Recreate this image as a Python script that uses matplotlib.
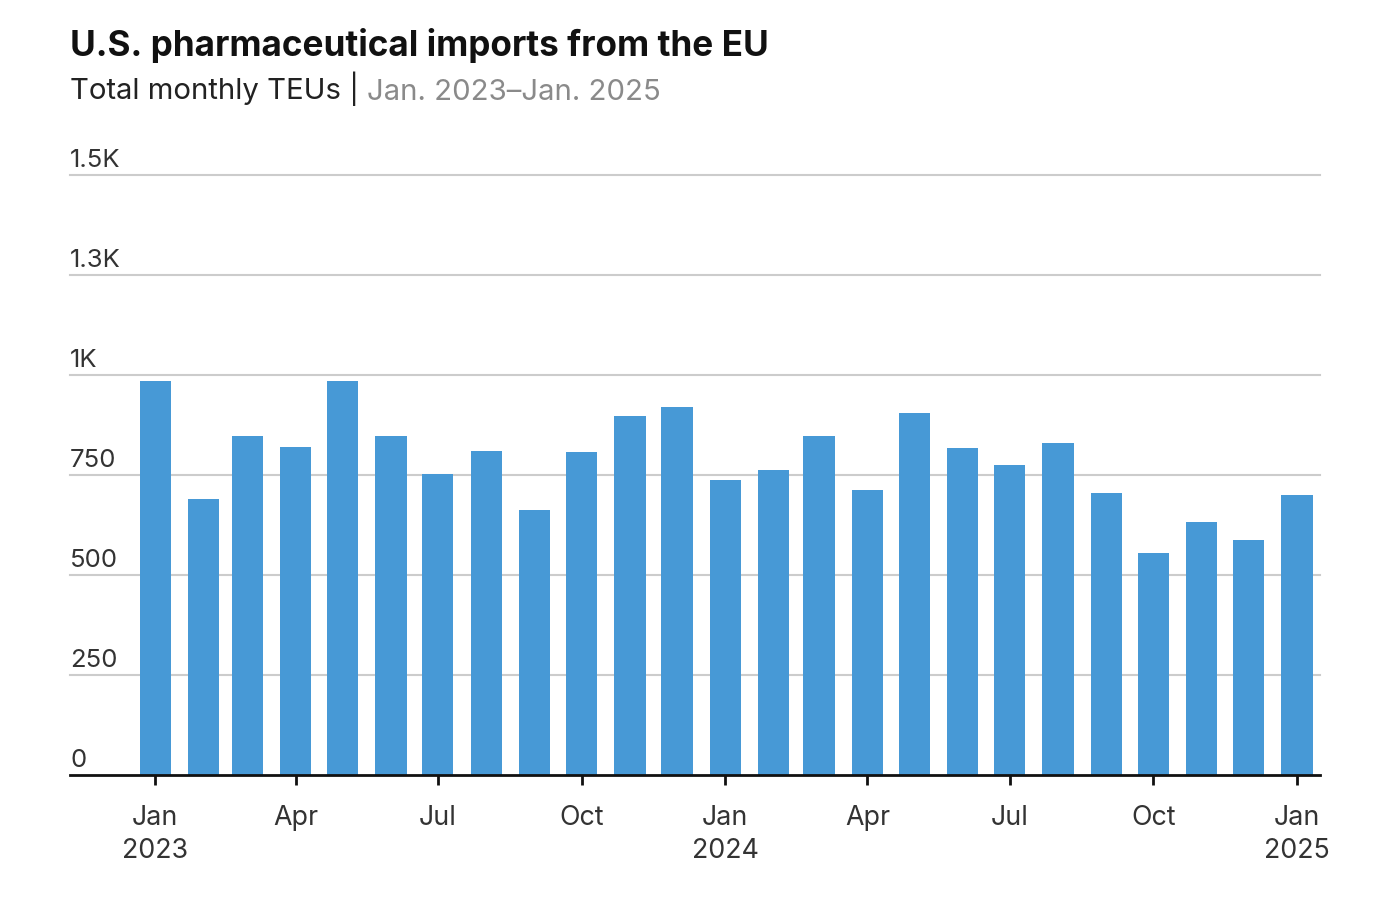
import matplotlib
matplotlib.use("Agg")
import matplotlib.pyplot as plt
import matplotlib.transforms as mtransforms
import pandas as pd

# ---- data ----
months = pd.date_range("2023-01-01", "2025-01-01", freq="MS")
teus = [985, 690, 848, 820, 985, 848, 752, 810, 662, 808, 898, 920,
        738, 762, 848, 712, 905, 818, 775, 830, 705, 555, 632, 588, 700]
ytick_values = [0, 250, 500, 750, 1000, 1250, 1500]
ytick_labels = ["0", "250", "500", "750", "1K", "1.3K", "1.5K"]
xtick_dates = pd.to_datetime(["2023-01-01", "2023-04-01", "2023-07-01", "2023-10-01",
                              "2024-01-01", "2024-04-01", "2024-07-01", "2024-10-01",
                              "2025-01-01"])
xtick_labels = ["Jan\n2023", "Apr", "Jul", "Oct", "Jan\n2024", "Apr", "Jul", "Oct", "Jan\n2025"]
title = "U.S. pharmaceutical imports from the EU"
subtitle_a = "Total monthly TEUs | "
subtitle_b = "Jan. 2023\u2013Jan. 2025"

FONT = ["Inter", "DejaVu Sans"]
plt.rcParams["font.family"] = FONT

W, H = 1384, 908
fig = plt.figure(figsize=(W / 100, H / 100), dpi=100)
ax = fig.add_axes([70 / W, (H - 775) / H, (1320 - 70) / W, (775 - 175) / H])

ax.bar(months, teus, width=20, color="#4799d6", zorder=3)

ax.set_ylim(0, 1500)
ax.set_xlim(pd.Timestamp("2023-01-01") - pd.Timedelta(days=54.5),
            pd.Timestamp("2025-01-01") + pd.Timedelta(days=14.7))

for s in ["top", "right", "left"]:
    ax.spines[s].set_visible(False)
ax.spines["bottom"].set_color("#111111")
ax.spines["bottom"].set_linewidth(2)
ax.spines["bottom"].set_zorder(4)

# gridlines
for v in ytick_values[1:]:
    ax.axhline(v, color="#cccccc", linewidth=1.5, zorder=1, clip_on=False)
ax.set_yticks([])

# y labels above gridlines
trans = mtransforms.blended_transform_factory(ax.transAxes, ax.transData)
for v, lab in zip(ytick_values, ytick_labels):
    ax.annotate(lab, xy=(0, v), xycoords=trans, xytext=(0, 5.8), textcoords="offset points",
                ha="left", va="baseline", fontsize=18.5, color="#333333")

ax.set_xticks(xtick_dates)
ax.set_xticklabels(xtick_labels, fontsize=19.3, color="#333333", linespacing=1.35)
ax.tick_params(axis="x", length=7, width=2, color="#111111", pad=14.5)

# title / subtitle
fig.text(70 / W, 1 - 56 / H, title, fontsize=25.3, fontweight="bold", color="#111111",
         va="baseline", ha="left")
t1 = fig.text(70 / W, 1 - 99.5 / H, subtitle_a, fontsize=21.1, color="#222222",
              va="baseline", ha="left")
fig.canvas.draw()
ax.annotate(subtitle_b, xy=(1, 0), xycoords=t1, va="bottom", ha="left",
            fontsize=21.1, color="#8a8a8a", annotation_clip=False)

fig.savefig("out.png", dpi=100)
